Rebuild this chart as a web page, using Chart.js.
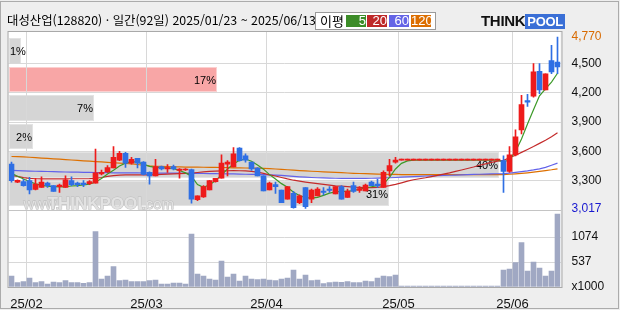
<!DOCTYPE html>
<html lang="ko">
<head>
<meta charset="utf-8">
<title>대성산업 일간 차트</title>
<script src="https://cdn.jsdelivr.net/npm/chart.js@4.4.1/dist/chart.umd.min.js"></script>
<style>
  html, body { margin: 0; padding: 0; }
  body { width: 620px; height: 310px; background: #eeeeee; position: relative; overflow: hidden;
         font-family: "Noto Sans CJK KR", "Liberation Sans", sans-serif; }
  #outline { position: absolute; left: 0; top: 1px; width: 617px; height: 306px; border: 1px solid #ababab; }
  #chart { position: absolute; left: 0; top: 0; }
  #title { position: absolute; left: 7px; top: 12px; font-size: 12.4px; line-height: 16px; color: #000; white-space: nowrap; }
  #legend { position: absolute; left: 315px; top: 12px; width: 119px; height: 16px; border: 1px solid #9a9a9a; background: #fff; }
  #legend .lbl { position: absolute; left: 4px; top: 0; font-size: 13px; line-height: 16px; }
  #legend .ma { position: absolute; top: 2px; width: 20px; height: 12px; color: #fff; text-align: right;
                font-family: "Liberation Sans", sans-serif; font-size: 13px; line-height: 12px; }
  #logo { position: absolute; left: 481px; top: 13px; height: 15px; white-space: nowrap;
          font-family: "Liberation Sans", sans-serif; font-weight: bold; font-size: 15px; line-height: 15px; }
  #logo .think { color: #111; letter-spacing: -0.3px; }
  #logo .pool { display: inline-block; background: #3a6fd6; color: #fff; padding: 0 2px; font-size: 13px; letter-spacing: -0.3px; }
</style>
</head>
<body>
<div id="outline"></div>
<canvas id="chart" width="620" height="310"></canvas>
<div id="title">대성산업(128820) · 일간(92일) 2025/01/23 ~ 2025/06/13</div>
<div id="legend">
  <span class="lbl">이평</span>
  <span class="ma" style="left:30px;background:#3c8c28">5</span>
  <span class="ma" style="left:51px;background:#be2828">20</span>
  <span class="ma" style="left:73px;background:#6464e6">60</span>
  <span class="ma" style="left:95px;background:#dc6e00">120</span>
</div>
<div id="logo"><span class="think">THINK</span><span class="pool">POOL</span></div>
<script>
// trading days, 2025
const dates = [
  '01/23','01/24','01/31',
  '02/03','02/04','02/05','02/06','02/07','02/10','02/11','02/12','02/13','02/14',
  '02/17','02/18','02/19','02/20','02/21','02/24','02/25','02/26','02/27','02/28',
  '03/04','03/05','03/06','03/07','03/10','03/11','03/12','03/13','03/14','03/17',
  '03/18','03/19','03/20','03/21','03/24','03/25','03/26','03/27','03/28','03/31',
  '04/01','04/02','04/03','04/04','04/07','04/08','04/09','04/10','04/11','04/14','04/15',
  '04/16','04/17','04/18','04/21','04/22','04/23','04/24','04/25','04/28','04/29','04/30',
  '05/02','05/07','05/08','05/09','05/12','05/13','05/14','05/15','05/16','05/19',
  '05/20','05/21','05/22','05/23','05/26','05/27','05/28','05/29','05/30',
  '06/02','06/04','06/05','06/09','06/10','06/11','06/12','06/13'
];

const opens = [
  3470,3285,3290,3300,3210,3230,3275,3250,3240,3230, 3300,3275,3275,3270,3275,3370,3390,3430,3510,3580,
  3480,3530,3490,3385,3350,3445,3420,3445,3405,3410, 3415,3105,3135,3205,3290,3325,3470,3440,3635,3555,
  3490,3430,3350,3205,3260,3205,3110,3170,3075,3230, 3110,3145,3195,3215,3165,3240,3130,3250,3200,3195,
  3285,3265,3230,3400,3490,3510,3510,3510,3510,3510, 3510,3510,3510,3510,3510,3510,3510,3510,3510,3510,
  3510,3510,3505,3395,3565,3820,4120,4165,4420,4230, 4530,4515
];
const highs = [
  3490,3310,3315,3335,3325,3340,3285,3250,3265,3350, 3340,3285,3300,3300,3625,3410,3455,3650,3600,3590,
  3540,3530,3495,3390,3520,3450,3465,3460,3425,3425, 3420,3145,3250,3305,3325,3565,3505,3640,3640,3575,
  3490,3435,3350,3285,3285,3205,3240,3190,3155,3230, 3215,3230,3230,3240,3240,3250,3215,3285,3240,3265,
  3295,3315,3400,3520,3540,3510,3510,3510,3510,3510, 3510,3510,3510,3510,3510,3510,3510,3510,3510,3510,
  3510,3510,3555,3650,3820,4175,4185,4500,4500,4395, 4685,4770
];
const lows = [
  3285,3280,3245,3165,3205,3230,3230,3190,3180,3230, 3250,3240,3240,3260,3275,3360,3385,3430,3505,3435,
  3470,3430,3360,3265,3350,3410,3385,3410,3325,3405, 3070,3095,3130,3205,3285,3325,3350,3440,3500,3490,
  3405,3350,3195,3205,3170,3075,3110,3020,3065,3017, 3075,3145,3155,3180,3165,3110,3130,3180,3180,3195,
  3250,3230,3230,3350,3480,3510,3510,3510,3510,3510, 3510,3510,3510,3510,3510,3510,3510,3510,3510,3510,
  3510,3510,3180,3385,3555,3780,4060,4155,4190,4230, 4395,4395
];
const closes = [
  3300,3305,3250,3205,3265,3285,3250,3190,3255,3310, 3260,3260,3260,3290,3380,3385,3435,3540,3580,3480,
  3520,3480,3365,3350,3445,3420,3435,3420,3420,3420, 3110,3145,3240,3300,3325,3480,3490,3575,3505,3510,
  3420,3350,3195,3275,3240,3075,3240,3025,3145,3035, 3205,3215,3180,3200,3240,3110,3195,3190,3220,3255,
  3250,3250,3385,3455,3510,3510,3510,3510,3510,3510, 3510,3510,3510,3510,3510,3510,3510,3510,3510,3510,
  3510,3510,3395,3565,3750,4080,4105,4415,4230,4395, 4415,4465
];
// volume, thousand shares
const volumes = [
  236,93,115,193,93,115,64,107,93,136, 93,93,79,93,1189,172,236,437,136,150,
  115,115,115,136,150,64,64,86,86,64, 1138,279,236,172,150,558,215,279,129,236,
  172,158,172,150,136,172,193,365,172,258, 136,150,72,93,107,100,115,93,93,129,
  115,193,236,222,258,0,0,0,0,0, 0,0,0,0,0,0,0,0,0,0,
  0,0,365,387,523,952,344,537,408,236, 344,1568
];

const ma5 = [
  3375,3345,3318,3292,3268,3252,3245,3240,3236,3240, 3246,3250,3256,3265,3287,3322,3368,3408,3450,3480,
  3495,3490,3470,3447,3437,3434,3430,3424,3405,3380, 3345,3260,3232,3258,3300,3360,3420,3470,3510,3522,
  3500,3460,3418,3362,3318,3270,3232,3182,3148,3126, 3122,3130,3150,3172,3185,3190,3190,3200,3214,3225,
  3238,3250,3266,3334,3420,3478,3503,3510,3510,3510, 3510,3510,3510,3510,3510,3510,3510,3510,3510,3510,
  3510,3510,3492,3515,3600,3728,3880,4026,4170,4241, 4310,4400
];
const ma20 = [
  3355,3345,3332,3324,3320,3319,3318,3318,3318,3319, 3320,3320,3320,3321,3324,3333,3344,3352,3357,3360,
  3360,3360,3360,3360,3362,3365,3368,3370,3372,3375, 3378,3384,3390,3395,3398,3400,3402,3403,3402,3400,
  3395,3388,3375,3360,3348,3333,3318,3305,3295,3286, 3278,3270,3262,3255,3248,3244,3240,3235,3232,3230,
  3230,3232,3240,3250,3262,3278,3295,3310,3320,3330, 3342,3355,3368,3380,3395,3410,3425,3440,3458,3473,
  3488,3500,3508,3535,3560,3590,3620,3650,3682,3715, 3750,3790
];
const ma60 = [
  3405,3403,3401,3399,3397,3395,3394,3392,3390,3389, 3388,3387,3386,3385,3384,3383,3382,3381,3380,3380,
  3380,3380,3379,3379,3378,3378,3378,3377,3377,3376, 3376,3375,3374,3373,3372,3371,3370,3369,3368,3366,
  3365,3364,3362,3360,3358,3355,3350,3345,3340,3336, 3333,3330,3328,3326,3325,3324,3323,3323,3323,3324,
  3325,3326,3328,3330,3333,3336,3339,3342,3345,3348, 3350,3352,3354,3356,3358,3360,3362,3364,3366,3368,
  3370,3371,3372,3378,3385,3392,3400,3410,3422,3437, 3458,3480
];
const ma120 = [
  3548,3546,3543,3540,3536,3532,3528,3524,3520,3516, 3512,3508,3504,3500,3496,3492,3488,3484,3480,3476,
  3472,3466,3458,3452,3448,3446,3444,3442,3441,3440, 3440,3439,3438,3437,3436,3435,3434,3432,3431,3430,
  3429,3428,3426,3424,3420,3416,3412,3408,3404,3400, 3397,3394,3391,3388,3385,3382,3379,3376,3374,3372,
  3370,3368,3366,3365,3364,3363,3362,3362,3362,3362, 3362,3362,3362,3362,3362,3362,3362,3362,3362,3362,
  3362,3362,3363,3366,3370,3375,3381,3388,3396,3404, 3412,3422
];

// price-volume distribution (bottom band first), share of volume in %
const bandEdges = [3017, 3309, 3601, 3894, 4186, 4478, 4770];
const bandShares = [31, 40, 2, 7, 17, 1];

const gridPrices = [3300, 3600, 3900, 4200, 4500];
const volumeTicks = [0, 537, 1074];

const UP = '#ee1b1b';
const DOWN = '#2f6fe4';
const candleColors = opens.map((o, i) => closes[i] >= o ? UP : DOWN);
const maxHigh = Math.max(...highs);
const minLow = Math.min(...lows);

function monthStart(i) {
    return i > 0 && i < dates.length && dates[i].slice(0, 2) !== dates[i - 1].slice(0, 2);
}

// white plot area, volume profile bands and the watermark
const backdrop = {
    id: 'backdrop',
    beforeDraw(chart) {
        const { ctx, chartArea: a, scales } = chart;
        const y = scales.y, xp = scales.xp;
        const last = closes[closes.length - 1];
        ctx.save();
        ctx.fillStyle = '#fff';
        ctx.fillRect(a.left, a.top, a.width, a.height);

        ctx.font = '11px "Liberation Sans Narrow", "Liberation Sans", sans-serif';
        ctx.textBaseline = 'middle';
        bandShares.forEach((share, k) => {
            const top = Math.round(y.getPixelForValue(bandEdges[k + 1])) + 1;
            const bottom = Math.round(y.getPixelForValue(bandEdges[k])) - 2;
            const left = Math.round(xp.getPixelForValue(0));
            const right = Math.round(xp.getPixelForValue(share));
            const current = last >= bandEdges[k] && last < bandEdges[k + 1];
            ctx.fillStyle = current ? '#f8a6a6' : '#d5d5d5';
            ctx.fillRect(left, top, right - left, bottom - top);
            ctx.strokeStyle = current ? '#fbd0d0' : '#e3e3e3';
            ctx.strokeRect(left + 0.5, top + 0.5, right - left - 1, bottom - top - 1);

            // label sits at the band's right end, but never past the plot's left edge
            const text = share + '%';
            const w = ctx.measureText(text).width;
            ctx.fillStyle = '#000';
            ctx.textAlign = 'left';
            ctx.fillText(text, Math.max(left + 1, right - 1 - w), (top + bottom) / 2 + 1);
        });

        // watermark
        ctx.textAlign = 'left';
        ctx.textBaseline = 'alphabetic';
        ctx.fillStyle = '#e2e2e2';
        ctx.strokeStyle = '#bdbdbd';
        ctx.lineWidth = 1;
        const base = a.top + 178;
        ctx.font = '15px "Liberation Sans", sans-serif';
        ctx.strokeText('www.', a.left + 15, base);
        ctx.fillText('www.', a.left + 15, base);
        ctx.font = 'bold 17px "Liberation Sans", sans-serif';
        ctx.strokeText('THINKPOOL', a.left + 39, base);
        ctx.fillText('THINKPOOL', a.left + 39, base);
        ctx.font = '15px "Liberation Sans", sans-serif';
        ctx.strokeText('.com', a.left + 133, base);
        ctx.fillText('.com', a.left + 133, base);
        ctx.restore();
    },
    afterDatasetsDraw(chart) {
        const { ctx, chartArea: a, scales } = chart;
        ctx.save();
        ctx.strokeStyle = '#a9a9a9';
        ctx.lineWidth = 1;
        ctx.strokeRect(a.left - 0.5, a.top + 0.5, a.right - a.left + 2, a.bottom - a.top);
        const sep = Math.round(scales.yv.top) + 0.5;
        ctx.strokeStyle = '#c4c4c4';
        ctx.beginPath();
        ctx.moveTo(a.left, sep);
        ctx.lineTo(a.right + 1, sep);
        ctx.stroke();
        ctx.restore();
    }
};

Chart.defaults.font.family = '"Liberation Sans", "Noto Sans CJK KR", sans-serif';
Chart.defaults.color = '#111';

const maLine = (label, data, color) => ({
    type: 'line', label, data, borderColor: color, borderWidth: 1.2,
    pointRadius: 0, tension: 0, yAxisID: 'y', order: 3
});

new Chart(document.getElementById('chart'), {
    type: 'bar',
    data: {
        labels: dates,
        datasets: [
            {
                label: 'body', data: opens.map((o, i) => [o, closes[i]]),
                backgroundColor: candleColors, barThickness: 5, minBarLength: 1,
                grouped: false, yAxisID: 'y', order: 1
            },
            {
                label: 'wick', data: lows.map((l, i) => [l, highs[i]]),
                backgroundColor: candleColors, barThickness: 1, minBarLength: 1,
                grouped: false, yAxisID: 'y', order: 2
            },
            maLine('5', ma5, '#3c9a28'),
            maLine('20', ma20, '#c42a2a'),
            maLine('60', ma60, '#6262ea'),
            maLine('120', ma120, '#de7000'),
            {
                label: 'volume', data: volumes, backgroundColor: '#a0a8c3',
                barThickness: 5, minBarLength: 1, grouped: false, yAxisID: 'yv', order: 7
            }
        ]
    },
    options: {
        responsive: false,
        animation: false,
        devicePixelRatio: 1,
        events: [],
        layout: { padding: { left: 8.5, top: 31, right: 0, bottom: 0 } },
        plugins: { legend: { display: false }, tooltip: { enabled: false } },
        scales: {
            x: {
                type: 'category',
                offset: true,
                border: { display: false },
                grid: {
                    offset: true, drawTicks: false,
                    color: ctx => monthStart(ctx.index) ? '#d8d8d8' : 'rgba(0,0,0,0)'
                },
                ticks: {
                    autoSkip: false, maxRotation: 0, padding: 10, labelOffset: -3,
                    font: { size: 13 }, color: '#111',
                    callback: (v, i) => monthStart(i) ? '25/' + dates[i].slice(0, 2) : ''
                },
                afterFit: s => { s.height = 23; }
            },
            // share axis for the volume profile bands, kept without any size
            xp: {
                type: 'linear', position: 'bottom', min: 0, max: 45, offset: false,
                border: { display: false }, grid: { display: false, offset: false }, ticks: { display: false },
                afterFit: s => { s.height = 0; }
            },
            y: {
                position: 'right', stack: 'right', stackWeight: 179,
                min: 3000, max: 4833,
                border: { display: false },
                grid: {
                    drawTicks: false,
                    color: ctx => ctx.tick && gridPrices.includes(ctx.tick.value) ? '#d8d8d8' : 'rgba(0,0,0,0)'
                },
                afterBuildTicks: s => {
                    s.ticks = [minLow, ...gridPrices, maxHigh].map(v => ({ value: v }));
                },
                ticks: {
                    autoSkip: false, padding: 11, font: { size: 12 },
                    color: ctx => ctx.tick.value === maxHigh ? '#d86a00' : (ctx.tick.value === minLow ? '#1818d0' : '#111'),
                    callback: v => v.toLocaleString('en-US')
                },
                afterFit: s => { s.width = 59.5; }
            },
            yv: {
                position: 'right', stack: 'right', stackWeight: 77,
                min: 0, max: 1654,
                border: { display: false },
                grid: {
                    drawTicks: false,
                    color: ctx => ctx.tick && ctx.tick.value > 0 ? '#d8d8d8' : 'rgba(0,0,0,0)'
                },
                afterBuildTicks: s => { s.ticks = volumeTicks.map(v => ({ value: v })); },
                ticks: {
                    autoSkip: false, padding: 11, font: { size: 12 }, color: '#111',
                    callback: v => v === 0 ? 'x1000' : String(v)
                },
                afterFit: s => { s.width = 59.5; }
            }
        }
    },
    plugins: [backdrop]
});
</script>
</body>
</html>
